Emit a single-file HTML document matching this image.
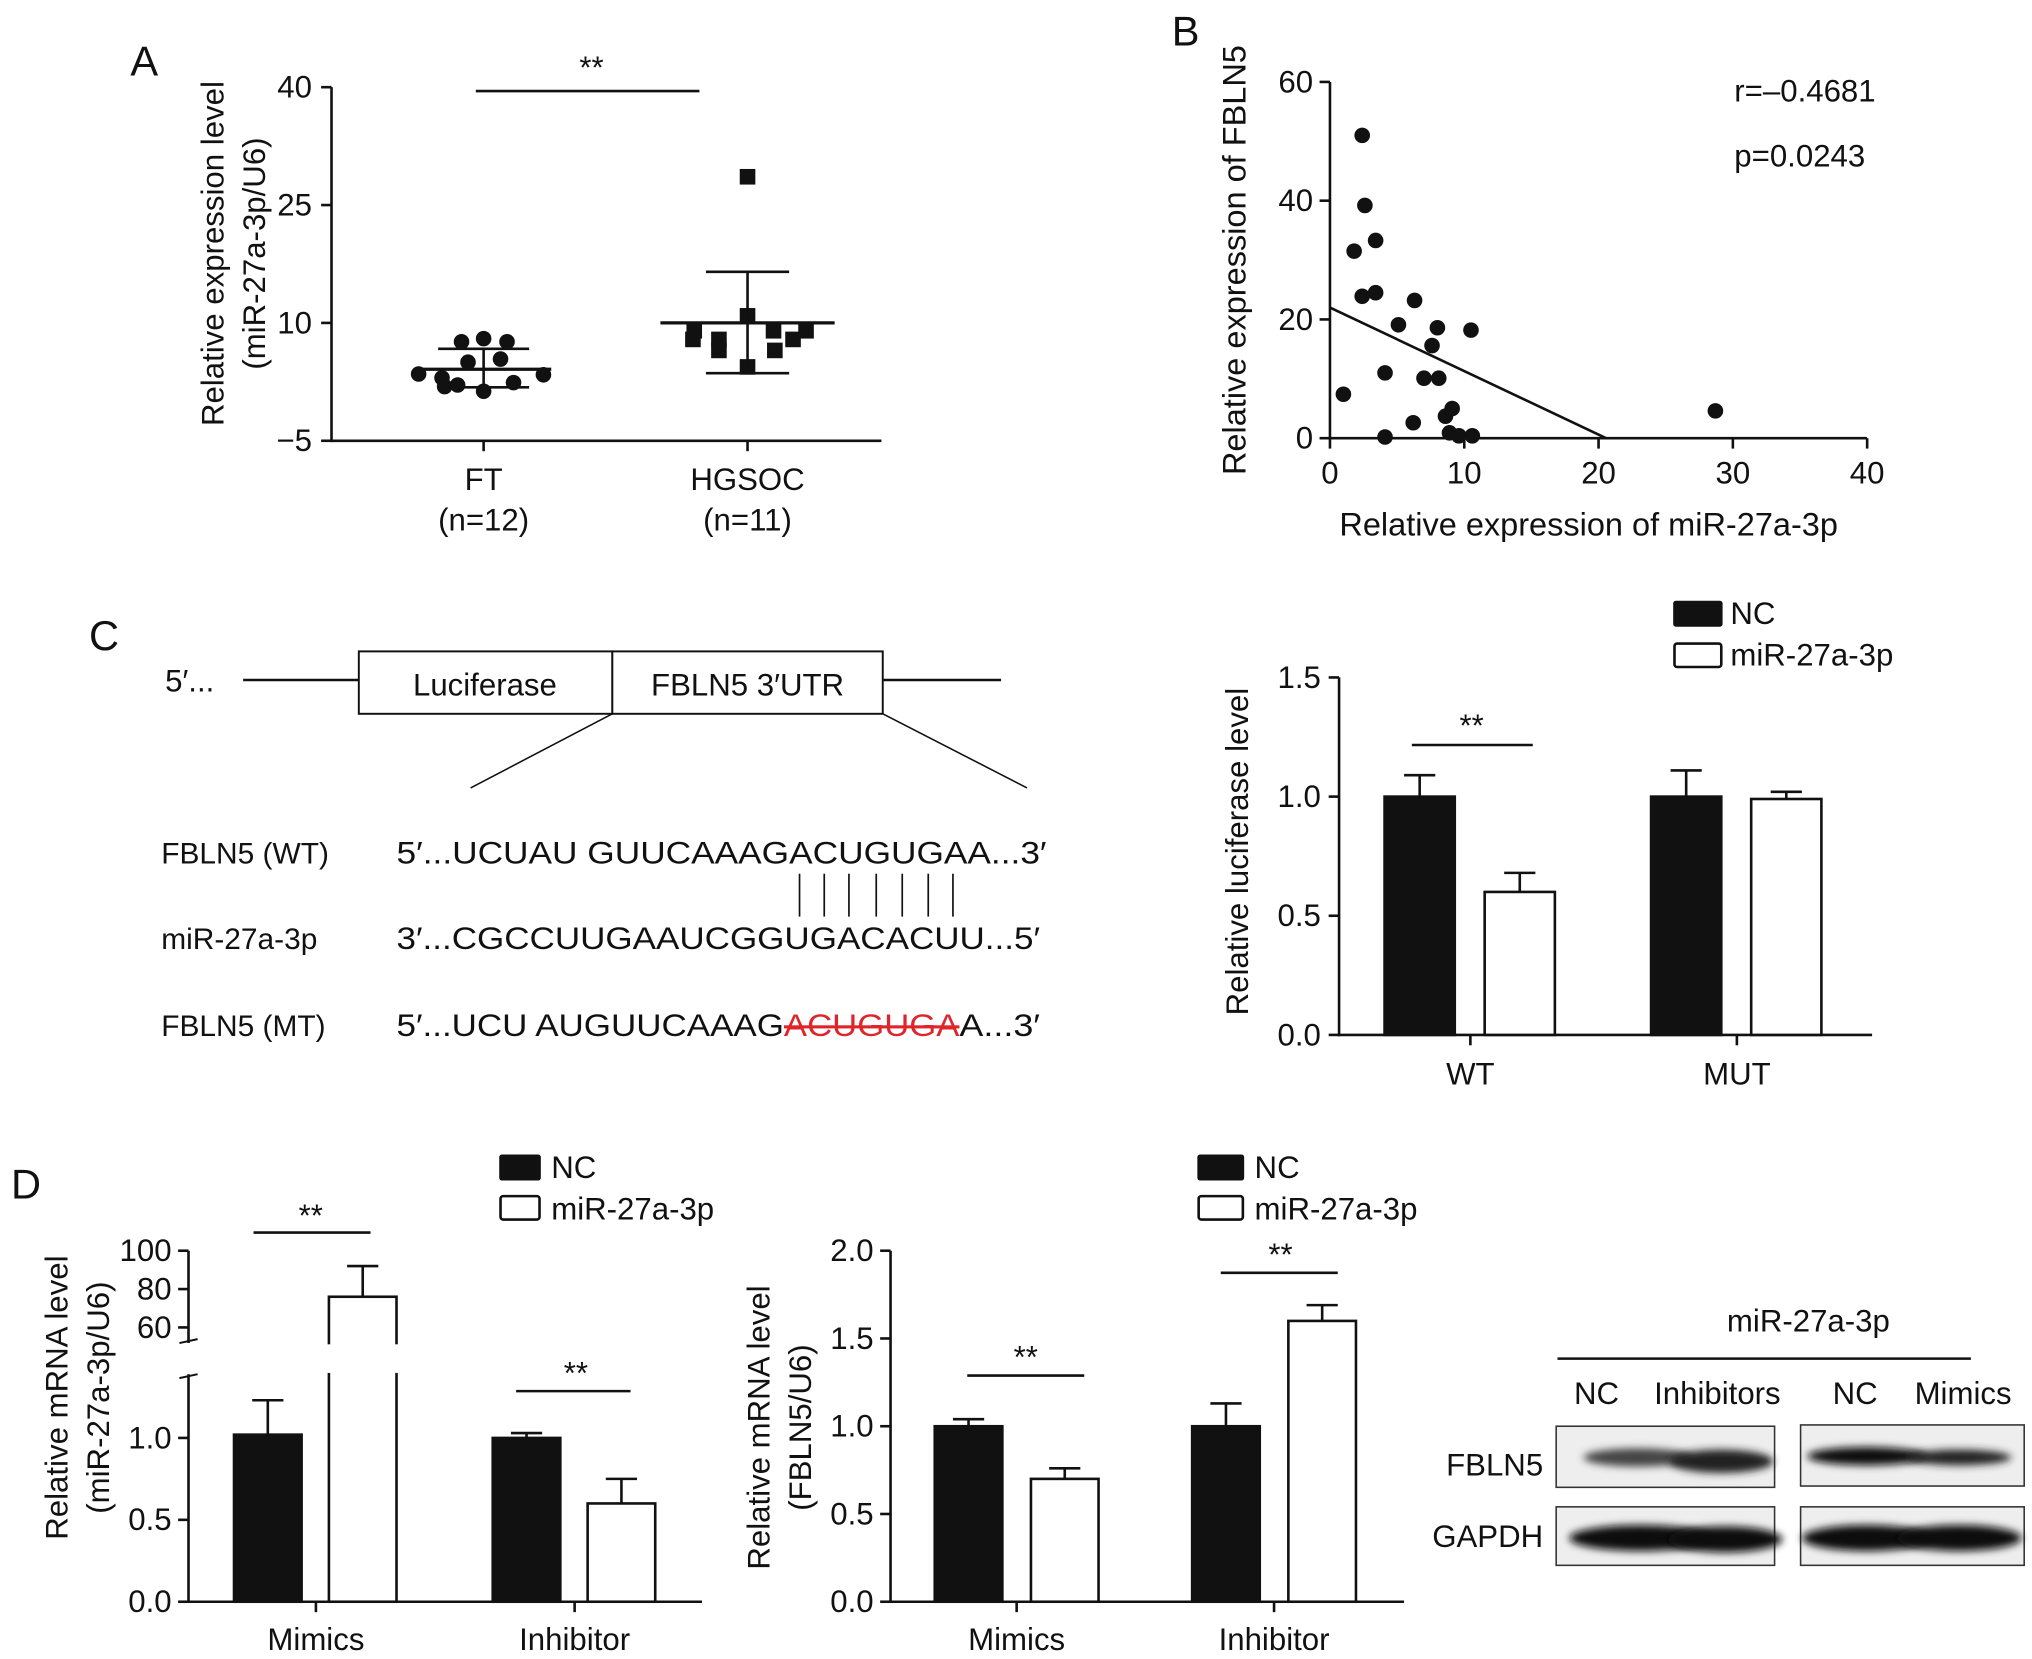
<!DOCTYPE html>
<html><head><meta charset="utf-8"><style>
html,body{margin:0;padding:0;background:#fff;}
svg{display:block;font-family:"Liberation Sans",Arial,sans-serif;}
text{fill:#111;}
</style></head><body>
<svg id="fig" width="2032" height="1659" viewBox="0 0 1563 1276" xmlns="http://www.w3.org/2000/svg">
<defs><filter id="blur" x="-20%" y="-50%" width="140%" height="200%"><feGaussianBlur stdDeviation="3"/></filter></defs>
<g id="pA"></g>
<g id="pB"></g>
<g id="pC"></g>
<g id="pD"></g>
</svg>
<script>
// ---- data ----
const aFT = [3.5, 3.0, 7.6, 8.0, 7.6, 5.4, 5.0, 1.9, 1.3, 2.4, 3.4, 2.1];
const aHG = [9.0, 7.9, 10.9, 9.0, 7.9, 6.5, 4.4, 6.5, 28.6, 7.9, 9.0];
const aStats = {FT:[4.1,6.7,1.8], HG:[10.0,16.5,3.6]};
const aTicks = [-5, 10, 25, 40];
const bX = [1,1.8,2.4,2.6,3.4,2.4,3.4,4.1,4.1,5.1,6.2,6.3,7.0,7.6,8.0,8.1,8.6,9.1,8.9,9.6,10.6,10.5,28.7];
const bY = [7.4,31.5,51.0,39.2,33.3,23.9,24.5,11.0,0.2,19.1,2.6,23.2,10.1,15.6,18.6,10.1,3.7,5.0,0.9,0.4,0.4,18.2,4.6];
const bLine = [22, -1.07];
const bXTicks = [0,10,20,30,40];
const bYTicks = [0,20,40,60];
const cGroups = ['WT','MUT'];
const cNC = [1.0, 1.0];
const cNCerr = [0.09, 0.11];
const cMiR = [0.6, 0.99];
const cMiRerr = [0.08, 0.03];
const cTicks = [0.0,0.5,1.0,1.5];
const d1Groups = ['Mimics','Inhibitor'];
const d1NC = [1.02, 1.0];
const d1NCerr = [0.21, 0.03];
const d1MiR = [76, 0.6];
const d1MiRerr = [16, 0.15];
const d2Groups = ['Mimics','Inhibitor'];
const d2NC = [1.0, 1.0];
const d2NCerr = [0.04, 0.13];
const d2MiR = [0.7, 1.6];
const d2MiRerr = [0.06, 0.09];
const d2Ticks = [0.0,0.5,1.0,1.5,2.0];

const NS='http://www.w3.org/2000/svg';
const FS=24;
function mk(parent, tag, attrs, txt){
  const e=document.createElementNS(NS,tag);
  for(const k in attrs) e.setAttribute(k,attrs[k]);
  if(txt!==undefined) e.textContent=txt;
  parent.appendChild(e); return e;
}
function line(p,x1,y1,x2,y2,name,w){
  const e=mk(p,'line',{x1,y1,x2,y2,stroke:'#111','stroke-width':w||2});
  
  
  return e;
}
function text(p,x,y,s,size,anchor,name,extra){
  const a={x,y,'font-size':size,'text-anchor':anchor||'middle'};
  if(extra) for(const k in extra) a[k]=extra[k];
  const e=mk(p,'text',a,s);
  
  
  return e;
}
function errbar(p,x,yTop,yVal,hw,name){
  line(p,x,yTop,x,yVal,name);
  line(p,x-hw,yTop,x+hw,yTop,name+'-cap');
}

// ---- Panel A ----
(function(){
  const g=document.getElementById('pA');
  const y=v=>339-(v+5)*6.044;
  const xFT=372, xHG=575;
  text(g,111,58,'A',32,'middle','panel-a-label');
  line(g,255,67,255,340,'a-y-axis');
  line(g,255,339,678,339,'a-x-axis');
  aTicks.forEach(t=>{line(g,247,y(t),255,y(t),'a-y-tick');text(g,240,y(t)+8,t<0?'\u22125':String(t),FS,'end','a-y-tick-label');});
  [xFT,xHG].forEach(x=>line(g,x,339,x,347,'a-x-tick'));
  text(g,372,377,'FT',FS,'middle','a-x-label-ft');
  text(g,372,408,'(n=12)',FS,'middle','a-x-n-ft');
  text(g,575,377,'HGSOC',FS,'middle','a-x-label-hgsoc');
  text(g,575,408,'(n=11)',FS,'middle','a-x-n-hgsoc');
  text(g,0,0,'Relative expression level',FS,'middle','a-y-title',{transform:'translate(172,195) rotate(-90)'});
  text(g,0,0,'(miR-27a-3p/U6)',FS,'middle','a-y-title-2',{transform:'translate(204,195) rotate(-90)'});
  line(g,366,70,538,70,'a-significance-line');
  text(g,455,60,'**',FS,'middle','a-significance-stars');
  const offsFT=[-50,-32,-17,0,18,13,-12,-30,0,23,46,-20];
  aFT.forEach((v,i)=>{const c=mk(g,'circle',{cx:xFT+offsFT[i],cy:y(v),r:6,fill:'#111'});
    
    });
  const offsHG=[-41,-22,0,20,35,-22,0,21,0,-42,45];
  aHG.forEach((v,i)=>{const r=mk(g,'rect',{x:xHG+offsHG[i]-6,y:y(v)-6,width:12,height:12,fill:'#111'});
    
    });
  [[xFT,aStats.FT,52,35],[xHG,aStats.HG,67,32]].forEach(([x,s,mw,ew])=>{
    line(g,x-mw,y(s[0]),x+mw,y(s[0]),'a-mean-line',2.5);
    line(g,x,y(s[1]),x,y(s[2]),'a-sd-line');
    line(g,x-ew,y(s[1]),x+ew,y(s[1]),'a-sd-cap-top');
    line(g,x-ew,y(s[2]),x+ew,y(s[2]),'a-sd-cap-bottom');
  });
})();

// ---- Panel B ----
(function(){
  const g=document.getElementById('pB');
  const x=v=>1023+v*10.33, y=v=>337-v*4.567;
  text(g,912,35,'B',32,'middle','panel-b-label');
  line(g,1023,63,1023,338,'b-y-axis');
  line(g,1022,337,1436,337,'b-x-axis');
  bXTicks.forEach(t=>{line(g,x(t),337,x(t),345,'b-x-tick');text(g,x(t),372,String(t),FS,'middle','b-x-tick-label');});
  bYTicks.forEach(t=>{line(g,1015,y(t),1023,y(t),'b-y-tick');text(g,1010,y(t)+8,String(t),FS,'end','b-y-tick-label');});
  text(g,1222,412,'Relative expression of miR-27a-3p',25,'middle','b-x-title');
  text(g,0,0,'Relative expression of FBLN5',25,'middle','b-y-title',{transform:'translate(958,200) rotate(-90)'});
  text(g,1334,78,'r=\u20130.4681',FS,'start','b-r-value');
  text(g,1334,128,'p=0.0243',FS,'start','b-p-value');
  const x1=-bLine[0]/bLine[1];
  line(g,x(0),y(bLine[0]),x(x1),y(0),'b-regression-line');
  bX.forEach((v,i)=>{const c=mk(g,'circle',{cx:x(v),cy:y(bY[i]),r:6,fill:'#111'});
    
    });
})();

// ---- Panel C ----
(function(){
  const g=document.getElementById('pC');
  text(g,80,500,'C',32,'middle','panel-c-label');
  text(g,127,532,'5\u2032...',FS,'start','c-5prime');
  line(g,187,523,277,523,'c-construct-line-left');
  line(g,679,523,770,523,'c-construct-line-right');
  const r1=mk(g,'rect',{x:276,y:501,width:195,height:48,fill:'#fff',stroke:'#111','stroke-width':1.5});
  
  
  const r2=mk(g,'rect',{x:471,y:501,width:208,height:48,fill:'#fff',stroke:'#111','stroke-width':1.5});
  
  
  text(g,373,535,'Luciferase',FS,'middle','c-luciferase-text');
  text(g,575,535,'FBLN5 3\u2032UTR',FS,'middle','c-utr-text');
  line(g,471,549,362,606,'c-zoom-line-left',1.2);
  line(g,679,549,790,606,'c-zoom-line-right',1.2);
  text(g,124,664,'FBLN5 (WT)',23,'start','c-wt-label');
  text(g,124,730,'miR-27a-3p',23,'start','c-mir-label');
  text(g,124,797,'FBLN5 (MT)',23,'start','c-mt-label');
  text(g,305,664,'5\u2032...UCUAU GUUCAAAGACUGUGAA...3\u2032',24,'start','c-wt-seq',{textLength:500,lengthAdjust:'spacingAndGlyphs'});
  text(g,305,730,'3\u2032...CGCCUUGAAUCGGUGACACUU...5\u2032',24,'start','c-mir-seq',{textLength:495,lengthAdjust:'spacingAndGlyphs'});
  const mt=text(g,305,797,'',24,'start','c-mt-seq');
  mk(mt,'tspan',{textLength:298,lengthAdjust:'spacingAndGlyphs'},'5\u2032...UCU AUGUUCAAAG');
  mk(mt,'tspan',{fill:'#e0252a','text-decoration':'line-through',textLength:135,lengthAdjust:'spacingAndGlyphs'},'ACUGUGA');
  mk(mt,'tspan',{textLength:62,lengthAdjust:'spacingAndGlyphs'},'A...3\u2032');
  [615,634,653,674,694,714,733].forEach(xx=>line(g,xx,672,xx,705,'c-pair-line',1.3));
  // chart
  const y=v=>796-v*183.3;
  line(g,1030,521,1030,797,'c-y-axis');
  line(g,1029,796,1440,796,'c-x-axis');
  cTicks.forEach(t=>{line(g,1022,y(t),1030,y(t),'c-y-tick');text(g,1016,y(t)+8,t.toFixed(1),FS,'end','c-y-tick-label');});
  text(g,0,0,'Relative luciferase level',FS,'middle','c-y-title',{transform:'translate(960,655) rotate(-90)'});
  const cx=[1131,1336];
  cGroups.forEach((name,i)=>{
    const xc=cx[i];
    line(g,xc,796,xc,804,'c-x-tick');
    text(g,xc,834,name,FS,'middle','c-x-label');
    const b1=mk(g,'rect',{x:xc-66,y:y(cNC[i]),width:54,height:y(0)-y(cNC[i]),fill:'#111',stroke:'#111','stroke-width':2});
    
    
    errbar(g,xc-39,y(cNC[i]+cNCerr[i]),y(cNC[i]),12,'c-err-nc');
    const b2=mk(g,'rect',{x:xc+11,y:y(cMiR[i]),width:54,height:y(0)-y(cMiR[i]),fill:'#fff',stroke:'#111','stroke-width':2});
    
    
    errbar(g,xc+38,y(cMiR[i]+cMiRerr[i]),y(cMiR[i]),12,'c-err-mir');
  });
  line(g,1086,573,1179,573,'c-significance-line');
  text(g,1132,566,'**',FS,'middle','c-significance-stars');
  const l1=mk(g,'rect',{x:1287,y:462,width:38,height:20,fill:'#111',rx:2});
  
  
  const l2=mk(g,'rect',{x:1288,y:495,width:36,height:18,fill:'#fff',stroke:'#111','stroke-width':2,rx:2});
  
  
  text(g,1331,480,'NC',FS,'start','c-legend-nc');
  text(g,1331,512,'miR-27a-3p',FS,'start','c-legend-mir');
})();

// ---- Panel D ----
(function(){
  const g=document.getElementById('pD');
  text(g,20,922,'D',32,'middle','panel-d-label');
  const yl=v=>1232-v*126, yu=v=>1021-(v-60)*1.475;
  const y1=v=>v>5?yu(v):yl(v);
  line(g,145,1057,145,1233,'d1-y-axis-lower');
  line(g,145,962,145,1033,'d1-y-axis-upper');
  line(g,138,1033,152,1030,'d1-break-mark-upper',1.5);
  line(g,138,1060,152,1057,'d1-break-mark-lower',1.5);
  line(g,144,1232,540,1232,'d1-x-axis');
  [0,0.5,1.0].forEach(t=>{line(g,137,yl(t),145,yl(t),'d1-y-tick');text(g,132,yl(t)+8,t.toFixed(1),FS,'end','d1-y-tick-label');});
  [60,80,100].forEach(t=>{line(g,137,yu(t),145,yu(t),'d1-y-tick');text(g,132,yu(t)+8,String(t),FS,'end','d1-y-tick-label');});
  text(g,0,0,'Relative mRNA level',FS,'middle','d1-y-title',{transform:'translate(52,1075) rotate(-90)'});
  text(g,0,0,'(miR-27a-3p/U6)',FS,'middle','d1-y-title-2',{transform:'translate(84,1075) rotate(-90)'});
  const d1x=[243,442];
  d1Groups.forEach((name,i)=>{
    const xc=d1x[i];
    line(g,xc,1232,xc,1240,'d1-x-tick');
    text(g,xc,1269,name,FS,'middle','d1-x-label');
    const b1=mk(g,'rect',{x:xc-63,y:y1(d1NC[i]),width:52,height:1232-y1(d1NC[i]),fill:'#111',stroke:'#111','stroke-width':2});
    
    
    errbar(g,xc-37,y1(d1NC[i]+d1NCerr[i]),y1(d1NC[i]),12,'d1-err-nc');
    const b2=mk(g,'rect',{x:xc+10,y:y1(d1MiR[i]),width:52,height:1232-y1(d1MiR[i]),fill:'#fff',stroke:'#111','stroke-width':2});
    
    
    errbar(g,xc+36,y1(d1MiR[i]+d1MiRerr[i]),y1(d1MiR[i]),12,'d1-err-mir');
  });
  const gap=mk(g,'rect',{x:250,y:1034,width:58,height:22,fill:'#fff'});
  
  
  line(g,195,948,285,948,'d1-sig-line-mimics');
  text(g,239,943,'**',FS,'middle','d1-sig-stars-mimics');
  line(g,397,1070,485,1070,'d1-sig-line-inhibitor');
  text(g,443,1064,'**',FS,'middle','d1-sig-stars-inhibitor');
  const l1=mk(g,'rect',{x:384,y:888,width:32,height:20,fill:'#111',rx:2});
  
  
  const l2=mk(g,'rect',{x:385,y:920,width:30,height:18,fill:'#fff',stroke:'#111','stroke-width':2,rx:2});
  
  
  text(g,424,906,'NC',FS,'start','d1-legend-nc');
  text(g,424,938,'miR-27a-3p',FS,'start','d1-legend-mir');
  // D2
  const y2=v=>1232-v*135;
  line(g,685,962,685,1233,'d2-y-axis');
  line(g,684,1232,1080,1232,'d2-x-axis');
  d2Ticks.forEach(t=>{line(g,677,y2(t),685,y2(t),'d2-y-tick');text(g,672,y2(t)+8,t.toFixed(1),FS,'end','d2-y-tick-label');});
  text(g,0,0,'Relative mRNA level',FS,'middle','d2-y-title',{transform:'translate(592,1098) rotate(-90)'});
  text(g,0,0,'(FBLN5/U6)',FS,'middle','d2-y-title-2',{transform:'translate(624,1098) rotate(-90)'});
  const d2x=[782,980];
  d2Groups.forEach((name,i)=>{
    const xc=d2x[i];
    line(g,xc,1232,xc,1240,'d2-x-tick');
    text(g,xc,1269,name,FS,'middle','d2-x-label');
    const b1=mk(g,'rect',{x:xc-63,y:y2(d2NC[i]),width:52,height:1232-y2(d2NC[i]),fill:'#111',stroke:'#111','stroke-width':2});
    
    
    errbar(g,xc-37,y2(d2NC[i]+d2NCerr[i]),y2(d2NC[i]),12,'d2-err-nc');
    const b2=mk(g,'rect',{x:xc+11,y:y2(d2MiR[i]),width:52,height:1232-y2(d2MiR[i]),fill:'#fff',stroke:'#111','stroke-width':2});
    
    
    errbar(g,xc+37,y2(d2MiR[i]+d2MiRerr[i]),y2(d2MiR[i]),12,'d2-err-mir');
  });
  line(g,744,1058,834,1058,'d2-sig-line-mimics');
  text(g,789,1052,'**',FS,'middle','d2-sig-stars-mimics');
  line(g,939,979,1029,979,'d2-sig-line-inhibitor');
  text(g,985,973,'**',FS,'middle','d2-sig-stars-inhibitor');
  const m1=mk(g,'rect',{x:921,y:888,width:36,height:20,fill:'#111',rx:2});
  
  
  const m2=mk(g,'rect',{x:922,y:920,width:34,height:18,fill:'#fff',stroke:'#111','stroke-width':2,rx:2});
  
  
  text(g,965,906,'NC',FS,'start','d2-legend-nc');
  text(g,965,938,'miR-27a-3p',FS,'start','d2-legend-mir');
  // Western blot
  text(g,1391,1024,'miR-27a-3p',FS,'middle','wb-header');
  line(g,1198,1045,1516,1045,'wb-header-line');
  text(g,1228,1080,'NC',FS,'middle','wb-lane-nc-1');
  text(g,1321,1080,'Inhibitors',FS,'middle','wb-lane-inhibitors');
  text(g,1427,1080,'NC',FS,'middle','wb-lane-nc-2');
  text(g,1510,1080,'Mimics',FS,'middle','wb-lane-mimics');
  text(g,1187,1135,'FBLN5',FS,'end','wb-fbln5-label');
  text(g,1187,1190,'GAPDH',FS,'end','wb-gapdh-label');
  const boxes=[[1197,1097,168,47,'wb-fbln5-blot-left'],[1385,1096,172,47,'wb-fbln5-blot-right'],[1197,1159,168,45,'wb-gapdh-blot-left'],[1385,1159,172,45,'wb-gapdh-blot-right']];
  boxes.forEach(b=>{const r=mk(g,'rect',{x:b[0],y:b[1],width:b[2],height:b[3],fill:'#eeeeee',stroke:'#333','stroke-width':1.2});
    
    });
  const bands=[[1260,1121,42,7,'#444'],[1324,1124,40,9,'#222'],[1436,1120,46,7,'#111'],[1507,1121,40,6,'#222'],
    [1262,1183,55,10,'#111'],[1327,1184,44,10,'#111'],[1436,1183,50,10,'#111'],[1507,1183,48,10,'#111']];
  bands.forEach(b=>{const e=mk(g,'ellipse',{cx:b[0],cy:b[1],rx:b[2],ry:b[3],fill:b[4],filter:'url(#blur)'});
    
    });
})();
</script>
</body></html>
